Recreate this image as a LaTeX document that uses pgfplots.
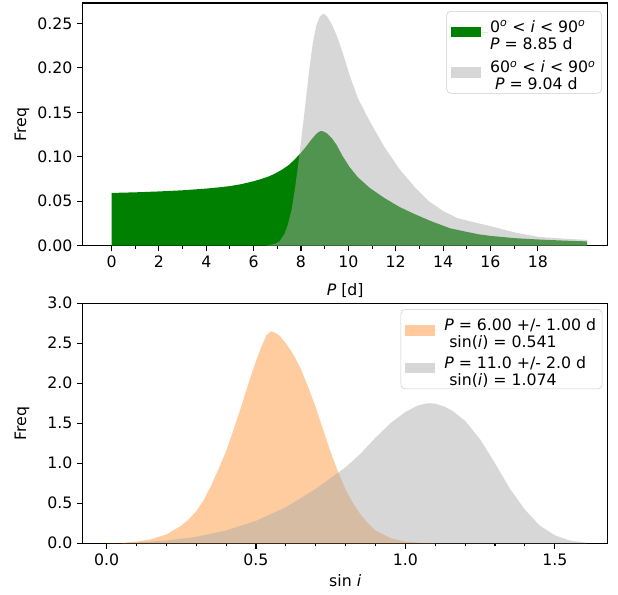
\documentclass[border=0pt]{standalone}
\usepackage{fontspec}
\setmainfont{DejaVu Sans}
\usepackage{pgfplots}
\pgfplotsset{compat=1.18}
\definecolor{mplgreen}{RGB}{0,128,0}
\definecolor{histgrey}{RGB}{171,171,171}
\definecolor{mplorange}{HTML}{FF7F0E}
\definecolor{legedge}{RGB}{204,204,204}

\newcommand{\fsz}{\fontsize{11.8}{12.6}\selectfont}

\pgfplotsset{
  base/.style={
    scale only axis, width=393.75pt,
    axis line style={line width=0.8pt},
    tick align=outside, xtick pos=lower, ytick pos=left,
    major tick length=4.2pt, minor tick length=2.4pt,
    every tick/.style={black, line width=0.8pt},
    tick label style={font=\fsz},
    label style={font=\fsz},
    /pgf/number format/assume math mode=true,
    legend cell align=left,
    legend style={font=\fsz, draw=legedge, rounded corners=3pt,
      anchor=north east, inner xsep=3pt, inner ysep=5pt, row sep=9pt,
      nodes={inner xsep=1.5pt}},
    legend image code/.code={\fill[##1, sharp corners] (0pt,-4pt) rectangle (22.5pt,4pt);
      \path (0pt,0pt) -- (28pt,0pt);},
    ylabel style={at={(axis description cs:-0.1156,0.5)}, anchor=center},
  },
}

\begin{document}
\begin{tikzpicture}
\begin{axis}[base,
  height=182pt,
  xmin=-1.22, xmax=20.95, ymin=0, ymax=0.273,
  xtick={0,2,4,6,8,10,12,14,16,18},
  minor x tick num=1,
  ytick={0,0.05,0.10,0.15,0.20,0.25},
  yticklabel style={/pgf/number format/.cd, fixed, fixed zerofill, precision=2},
  xlabel={\textit{P} [d]}, ylabel={Freq},
  xlabel style={yshift=-5pt},
  legend style={at={(0.989,0.967)}},
]
\addplot[fill=mplgreen, draw=none] coordinates {
(0,0) (0,0.0593) (1,0.0600) (2,0.0610) (3,0.0623) (4,0.0642) (4.5,0.0655)
(5,0.0670) (5.5,0.0693) (6,0.0725) (6.3,0.0748) (6.6,0.0775) (6.9,0.0810)
(7.2,0.0855) (7.5,0.0910) (7.75,0.0975) (8.0,0.1045) (8.2,0.1110)
(8.4,0.1180) (8.6,0.1245) (8.75,0.1280) (8.85,0.1290) (8.95,0.1285)
(9.1,0.1262) (9.3,0.1210) (9.5,0.1135) (9.75,0.1010) (10.05,0.0885)
(10.4,0.0770) (10.9,0.0650) (11.5,0.0540) (12.16,0.0435) (12.8,0.0355)
(13.5,0.0275) (14.3,0.0195) (15,0.0155) (15.5,0.0128) (16,0.0110)
(17,0.0085) (18,0.0070) (19,0.0058) (20.08,0.0048) (20.08,0)
} \closedcycle;
\addlegendentry{\begin{tabular}{@{}l@{}}0\textsuperscript{\textit{o}} < \textit{i} < 90\textsuperscript{\textit{o}}\\\textit{P} = 8.85 d\end{tabular}}
\addplot[fill=histgrey, fill opacity=0.47, draw=none] coordinates {
(6.5,0) (6.9,0.002) (7.1,0.005) (7.3,0.013) (7.45,0.024) (7.6,0.040)
(7.75,0.065) (7.9,0.095) (8.05,0.128) (8.2,0.163) (8.35,0.198) (8.5,0.228)
(8.65,0.248) (8.8,0.258) (8.95,0.261) (9.1,0.258) (9.3,0.249) (9.5,0.237)
(9.75,0.218) (10.05,0.192) (10.4,0.166) (10.9,0.140) (11.5,0.112)
(12.16,0.086) (12.8,0.066) (13.4,0.050) (14.0,0.039) (14.6,0.031)
(15.2,0.027) (16,0.022) (17,0.015) (18,0.010) (19,0.008) (20.08,0.0065)
(20.08,0)
} \closedcycle;
\addlegendentry{\begin{tabular}{@{}l@{}}60\textsuperscript{\textit{o}} < \textit{i} < 90\textsuperscript{\textit{o}}\\\ \textit{P} = 9.04 d\end{tabular}}
\end{axis}

\begin{axis}[base,
  at={(0,-43.2pt)}, anchor=north west,
  height=180pt,
  xmin=-0.08, xmax=1.677, ymin=0, ymax=3,
  xtick={0,0.5,1.0,1.5},
  minor x tick num=4,
  ytick={0,0.5,1.0,1.5,2.0,2.5,3.0},
  xticklabel style={/pgf/number format/.cd, fixed, fixed zerofill, precision=1},
  yticklabel style={/pgf/number format/.cd, fixed, fixed zerofill, precision=1},
  xlabel={sin \textit{i}}, ylabel={Freq},
  legend style={at={(0.99,0.975)}, row sep=7pt},
]
\addplot[fill=mplorange, fill opacity=0.4, draw=none] coordinates {
(0.0,0) (0.05,0.005) (0.1,0.02) (0.15,0.05) (0.2,0.11) (0.25,0.22)
(0.275,0.30) (0.3,0.40) (0.325,0.54) (0.35,0.72) (0.375,0.93) (0.4,1.15)
(0.425,1.42) (0.45,1.70) (0.475,2.00) (0.5,2.28) (0.52,2.47) (0.535,2.60)
(0.55,2.65) (0.565,2.63) (0.58,2.59) (0.6,2.50) (0.625,2.36) (0.65,2.18)
(0.675,1.95) (0.7,1.70) (0.725,1.42) (0.75,1.14) (0.775,0.89) (0.8,0.67)
(0.825,0.50) (0.85,0.36) (0.875,0.25) (0.9,0.16) (0.95,0.065) (1.0,0.02)
(1.05,0.006) (1.1,0)
} \closedcycle;
\addlegendentry{\begin{tabular}{@{}l@{}}\textit{P} = 6.00 +/- 1.00 d\\\ sin(\textit{i}) = 0.541\end{tabular}}
\addplot[fill=histgrey, fill opacity=0.47, draw=none] coordinates {
(0.05,0) (0.1,0.01) (0.2,0.035) (0.3,0.08) (0.4,0.16) (0.5,0.28)
(0.6,0.45) (0.7,0.68) (0.8,0.95) (0.85,1.12) (0.9,1.32) (0.95,1.50)
(1.0,1.64) (1.04,1.72) (1.074,1.75) (1.1,1.745) (1.13,1.71) (1.16,1.65)
(1.2,1.53) (1.25,1.30) (1.3,1.00) (1.35,0.68) (1.4,0.42) (1.45,0.22)
(1.5,0.10) (1.55,0.035) (1.607,0.006) (1.607,0)
} \closedcycle;
\addlegendentry{\begin{tabular}{@{}l@{}}\textit{P} = 11.0 +/- 2.0 d\\\ sin(\textit{i}) = 1.074\end{tabular}}
\end{axis}
\pgfresetboundingbox
\path (-62pt,184.25pt) rectangle (401.5pt,-262pt);
\end{tikzpicture}
\end{document}
